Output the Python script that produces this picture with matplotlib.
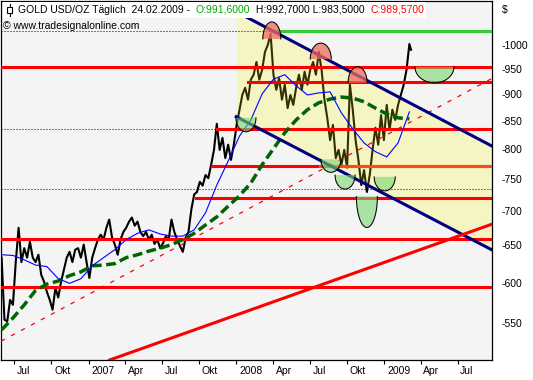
import numpy as np
import pandas as pd
import matplotlib
matplotlib.use("Agg")
import matplotlib.pyplot as plt
from matplotlib.ticker import FixedLocator, NullLocator
from matplotlib.transforms import ScaledTranslation
from matplotlib.offsetbox import TextArea, HPacker, AnchoredOffsetbox, DrawingArea
from matplotlib.patches import Rectangle
from matplotlib.lines import Line2D

plt.rcParams['font.family'] = ['Liberation Sans', 'DejaVu Sans']
plt.rcParams['font.size'] = 7.5

# ---- data ----
# weekly gold (USD/oz), every 7 days from 2006-05-19 up to 2009-02-20
gold_start = '2006-05-19'
gold = [633, 554, 552, 578, 572, 627, 675, 627, 646, 633,
        655, 633, 627, 637, 610, 601, 588, 578, 566, 593,
        581, 601, 617, 633, 641, 627, 644, 646, 633, 651,
        627, 606, 633, 646, 658, 665, 658, 675, 687, 661,
        651, 637, 658, 669, 675, 684, 690, 678, 684, 669,
        663, 669, 658, 665, 652, 658, 646, 653, 663, 658,
        687, 669, 658, 649, 641, 661, 669, 702, 725, 729,
        745, 739, 756, 751, 773, 798, 844, 798, 819, 784,
        807, 781, 807, 842, 870, 898, 912, 889, 928, 938,
        964, 928, 948, 985, 1000, 1024, 938, 908, 931, 889,
        918, 873, 898, 879, 912, 938, 908, 944, 918, 948,
        964, 938, 985, 948, 889, 855, 815, 842, 784, 798,
        773, 798, 768, 918, 870, 815, 781, 740, 764, 729,
        756, 798, 837, 807, 860, 815, 879, 833, 870, 851,
        879, 898, 918, 948, 1002]
last_day = '2009-02-24'
last_close = 989.57

# moving averages, one value every 4 weeks
ma_fast = [637, 636, 630, 623, 621, 605, 599, 605, 622, 633, 644, 658, 667,
           672, 666, 663, 663, 672, 697, 740, 779, 822, 851, 900, 929, 938,
           916, 898, 902, 904, 864, 835, 810, 795, 786, 810, 866]
ma_slow = [542, 556, 572, 590, 598, 602, 609, 614, 622, 623, 625, 633, 637,
           642, 646, 651, 658, 667, 679, 691, 707, 723, 743, 773, 800, 828,
           851, 870, 883, 890, 894, 892, 885, 873, 862, 855, 853]

# horizontal support / resistance levels
red_levels = [954, 923.5, 835, 771, 719, 659, 594]
red_from = [None, '2008-01-18', '2007-11-02', '2007-10-20', '2007-09-11', None, None]
green_level, green_from = 1031, '2008-03-17'
dotted_levels = [1031, 835, 733.5]
dotted_to = ['2008-03-17', '2007-11-02', None]

# trend channel and trend lines
chan_dates = ['2007-12-20', '2009-09-11']
chan_upper = [1074, 805]
chan_lower = [857, 644]
trend_dates = ['2007-02-10', '2009-09-11']
trend_vals = [508, 680]
thin_dates = ['2006-05-18', '2009-09-11']
thin_vals = [529, 930]

# tops (red) and bottoms (green) marks
top_dates = ['2008-03-17', '2008-07-16', '2008-10-15']
top_vals = [1013, 970, 922]
top_w = [18, 21, 19]
top_h = [17, 16, 16]
bot_dates = ['2008-01-13', '2008-08-10', '2008-09-14', '2008-11-07', '2008-12-21', '2009-04-23']
bot_vals = [855, 782, 756, 722, 753, 954]
bot_w = [20, 20, 20, 21, 21, 39]
bot_h = [14, 13, 14, 31, 14, 16]

tick_months = ['2006-07', '2006-10', '2007-01', '2007-04', '2007-07', '2007-10', '2008-01',
               '2008-04', '2008-07', '2008-10', '2009-01', '2009-04', '2009-07']
tick_labels = ['Jul', 'Okt', '2007', 'Apr', 'Jul', 'Okt', '2008', 'Apr', 'Jul', 'Okt', '2009', 'Apr', 'Jul']
y_ticks = [550, 600, 650, 700, 750, 800, 850, 900, 950, 1000]

# ---------------------------------
weeks = pd.date_range(gold_start, periods=len(gold), freq='7D')
px_dates = list(weeks) + [pd.Timestamp(last_day)]
px_vals = gold + [last_close]
ma_dates = weeks[::4]

x0, x1 = pd.Timestamp('2006-05-18'), pd.Timestamp('2009-09-11')

fig = plt.figure(figsize=(5.33, 3.8), dpi=100)
ax = fig.add_axes([1.2 / 533, 1 - 360 / 380, 490.3 / 533, 359 / 380])
ax.set_facecolor('#F4F4F4')
ax.set_yscale('log')

ax.plot(px_dates, px_vals, color='black', lw=1.5, zorder=2)

cd = pd.to_datetime(chan_dates)
ax.fill_between(cd, chan_lower, chan_upper, color='#FEF400', alpha=0.2, lw=0, zorder=2.5)

for lvl, end in zip(dotted_levels, dotted_to):
    ax.plot([x0, pd.Timestamp(end) if end else x1], [lvl, lvl], color='black',
            lw=0.72, ls=(0, (1, 2)), zorder=3)

ax.plot(pd.to_datetime(thin_dates), thin_vals, color='red', lw=0.9, ls=(0, (3.5, 5.5)), zorder=3)

for lvl, start in zip(red_levels, red_from):
    ax.plot([pd.Timestamp(start) if start else x0, x1], [lvl, lvl], color='red', lw=2.2, zorder=3.2)
# the 771 level turns orange-red on the right side
ax.plot([pd.Timestamp('2008-07-14'), x1], [771, 771], color='#FF4A10', lw=2.2, zorder=3.3)
ax.plot([pd.Timestamp(green_from), x1], [green_level, green_level], color='#33CC33', lw=2.2, zorder=3.2)

ax.plot(ma_dates, ma_slow, color='#006400', lw=2.5, ls=(0, (2.8, 1.3)), zorder=3.4)
ax.plot(ma_dates, ma_fast, color='#0000FF', lw=0.8, zorder=3.5)

ax.plot(cd, chan_upper, color='#000080', lw=2.2, zorder=3.6)
ax.plot(cd, chan_lower, color='#000080', lw=2.2, zorder=3.6)
ax.plot(pd.to_datetime(trend_dates), trend_vals, color='red', lw=2.2, zorder=3.7)

t = np.linspace(0, np.pi, 40)


def half_ellipse(d, v, w, h, sign, color, alpha):
    tr = ScaledTranslation(matplotlib.dates.date2num(pd.Timestamp(d)), v, ax.transData)
    xs = w / 2 * np.cos(t)
    ys = sign * h * np.sin(t)
    ax.fill(xs, ys, color=color, alpha=alpha, lw=0, transform=tr, zorder=5)
    ax.plot(xs, ys, color='black', lw=0.75, transform=tr, zorder=5.1)


for d, v, w, h in zip(top_dates, top_vals, top_w, top_h):
    half_ellipse(d, v, w, h, 1, '#EE6B5D', 0.75)
for d, v, w, h in zip(bot_dates, bot_vals, bot_w, bot_h):
    half_ellipse(d, v, w, h, -1, '#78D76E', 0.6)

ax.set_xlim(x0, x1)
ax.set_ylim(508, 1099)

# axes decoration
ax.yaxis.tick_right()
ax.yaxis.set_major_locator(FixedLocator(y_ticks))
ax.yaxis.set_minor_locator(NullLocator())
ax.set_yticklabels(['-' + str(v) for v in y_ticks])
ax.tick_params(axis='y', length=0, pad=7)

ticks = [pd.Timestamp(m) - pd.Timedelta(days=12) for m in tick_months]
ax.set_xticks(ticks)
ax.set_xticklabels(tick_labels)
ax.xaxis.set_minor_locator(NullLocator())
ax.tick_params(axis='x', length=3, width=0.8, pad=1.5, direction='out')
shift = ScaledTranslation(2 / 72, 0, fig.dpi_scale_trans)
for lab in ax.get_xticklabels():
    lab.set_horizontalalignment('left')
    lab.set_transform(lab.get_transform() + shift)

for s in ax.spines.values():
    s.set_linewidth(0.9)

# header
da = DrawingArea(8, 9, 0, 0)
da.add_artist(Line2D([4, 4], [0, 9], color='black', lw=0.8))
da.add_artist(Rectangle((2, 2.5), 4, 4, facecolor='white', edgecolor='black', lw=0.8))
parts = [('GOLD USD/OZ Täglich  24.02.2009 - ', 'black'), ('O:991,6000', '#00A800'),
         (' H:992,7000 L:983,5000 ', 'black'), ('C:989,5700', 'red')]
boxes = [da] + [TextArea(s, textprops=dict(color=c)) for s, c in parts]
pack = HPacker(children=boxes, align='center', pad=0, sep=2)
hdr = AnchoredOffsetbox(loc='upper left', child=pack, pad=0.15, borderpad=0,
                        frameon=True, bbox_to_anchor=(2.5 / 533, 1 - 2 / 380),
                        bbox_transform=fig.transFigure)
hdr.patch.set_facecolor('white')
hdr.patch.set_edgecolor('none')
hdr.patch.set_boxstyle('square', pad=0)
ax.add_artist(hdr)

fig.text(3 / 533, 1 - 26 / 380, '\u00a9 www.tradesignalonline.com', va='center', ha='left')
fig.text(502 / 533, 1 - 10 / 380, '$', va='center', ha='left')

fig.savefig('out.png', dpi=100, facecolor='white')
